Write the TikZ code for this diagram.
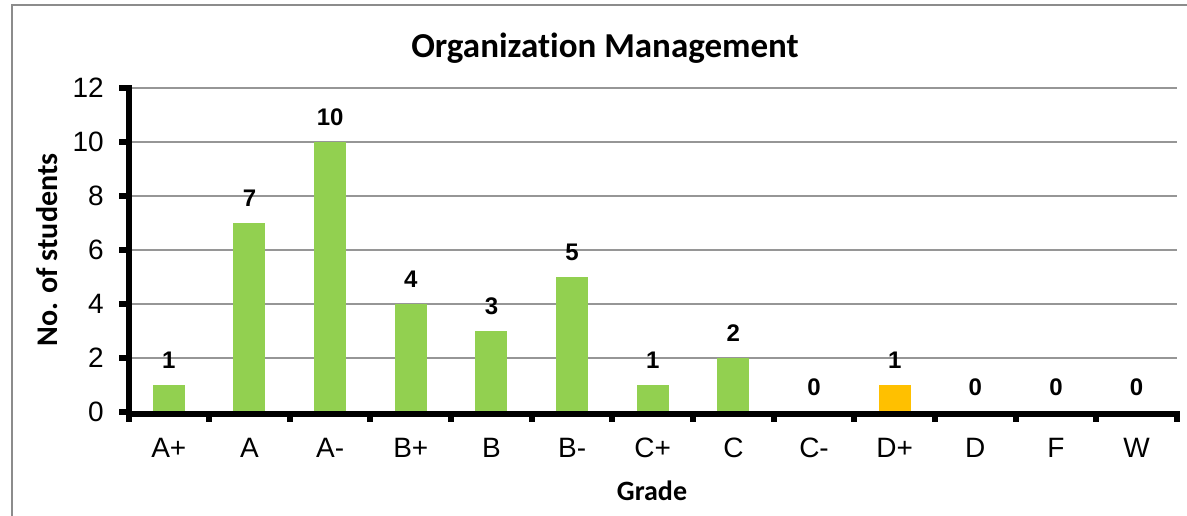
\documentclass[tikz,border=0pt]{standalone}
\usepackage{fontspec}
\setmainfont{Liberation Sans}
\newfontfamily\calib[Ligatures=NoCommon]{Carlito}
\definecolor{bargreen}{HTML}{92D050}
\definecolor{barorange}{HTML}{FFC000}
\definecolor{gridgray}{HTML}{969696}
\definecolor{framegray}{HTML}{8C8C8C}
\tikzset{
  gridline/.style={draw=gridgray, line width=2pt},
  axisline/.style={draw=black, line width=6pt},
  tickline/.style={draw=black, line width=6pt},
  ticklabel/.style={font=\fontsize{28}{30}\selectfont, inner sep=0pt},
  catlabel/.style={font=\fontsize{28}{30}\selectfont, inner sep=0pt},
  vallabel/.style={font=\fontsize{24}{26}\selectfont\bfseries, inner sep=0pt},
  titlelabel/.style={font=\fontsize{35}{38}\selectfont\calib\bfseries, inner sep=0pt},
  axtitle/.style={font=\fontsize{28}{30}\selectfont\calib\bfseries, inner sep=0pt},
}
\begin{document}
\begin{tikzpicture}[x=1pt,y=-1pt]
\useasboundingbox (0,0) rectangle (1187,515);
% frame
\draw[framegray, line width=2pt] (12,520) |- (1195,5);
% gridlines
\foreach \v in {2,4,...,12} {
  \draw[gridline] (131,{411.5-27*\v}) -- (1177,{411.5-27*\v});
}
% bars and labels
\foreach \i/\g/\v/\c in {1/A+/1/bargreen,2/A/7/bargreen,3/A-/10/bargreen,4/B+/4/bargreen,5/B/3/bargreen,6/B-/5/bargreen,7/C+/1/bargreen,8/C/2/bargreen,9/C-/0/bargreen,10/D+/1/barorange,11/D/0/bargreen,12/F/0/bargreen,13/W/0/bargreen} {
  \pgfmathsetmacro{\xc}{128.5+(\i-0.5)*80.65}
  \pgfmathsetmacro{\yt}{411.5-27*\v}
  \ifnum\v>0
    \fill[\c] ({\xc-16},\yt) rectangle ({\xc+16},411.5);
  \fi
  \node[vallabel] (v\i) at (\xc,{\yt-24}) {\v};
  \node[catlabel] (c\i) at (\xc,448) {\g};
}
% axes
\draw[axisline] (128.5,85) -- (128.5,416.5);
\draw[axisline] (125.5,413.5) -- (1180,413.5);
\foreach \v in {0,2,...,12} {
  \draw[tickline] (119,{411.5-27*\v}) -- (128,{411.5-27*\v});
  \node[ticklabel, anchor=east] (t\v) at (104,{411.5-27*\v}) {\v};
}
\foreach \i in {1,...,13} {
  \pgfmathsetmacro{\xt}{128.5+\i*80.65}
  \draw[tickline] (\xt,413) -- (\xt,422);
}
\draw[tickline] (128.5,413) -- (128.5,422);
% titles
\node[titlelabel] (title) at (605,48) {Organization Management};
\node[axtitle] (xtitle) at (652,491) {Grade};
\node[axtitle, font=\fontsize{30}{32}\selectfont\calib\bfseries, rotate=90] (ytitle) at (47,250) {No. of students};
\end{tikzpicture}
\end{document}
